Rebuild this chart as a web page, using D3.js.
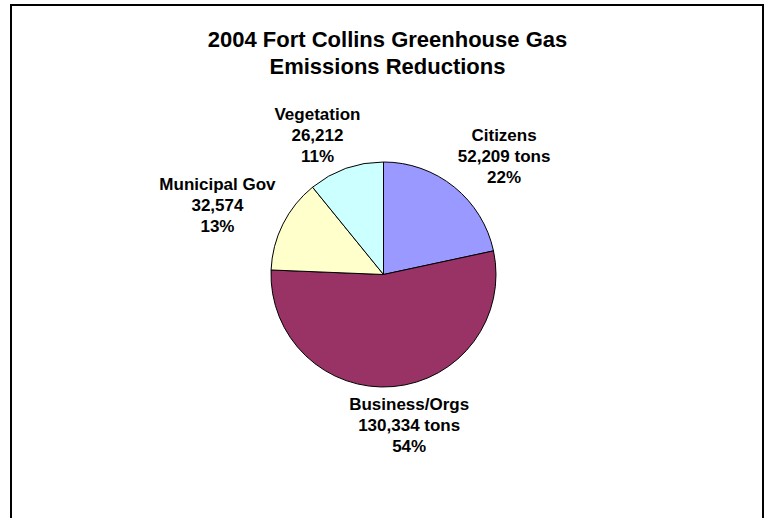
<!DOCTYPE html>
<html>
<head>
<meta charset="utf-8">
<script src="https://cdn.jsdelivr.net/npm/d3@7"></script>
<style>
  body { margin: 0; background: #fff; }
  svg text { font-family: Arial, "Liberation Sans", sans-serif; font-weight: bold; fill: #000; }
</style>
</head>
<body>
<div id="chart"></div>
<script>
var categories = ["Citizens", "Business/Orgs", "Municipal Gov", "Vegetation"];
var tons = [52209, 130334, 32574, 26212];
var units = [" tons", " tons", "", ""];
var titleLines = ["2004 Fort Collins Greenhouse Gas", "Emissions Reductions"];

var colors = ["#9999ff", "#993366", "#ffffcc", "#ccffff"];

var width = 767,
    height = 518;

var cx = 383.5,
    cy = 274.5,
    radius = 112.5,
    labelRadius = 160;

// nudges so the labels sit where Excel put them
var labelNudge = [[20, 12], [12, -3], [-23, 8], [-12.5, 17]];
var lineGap = 21;

var svg = d3.select("#chart").append("svg")
    .attr("width", width)
    .attr("height", height);

// outer frame
svg.append("rect")
    .attr("x", 11)
    .attr("y", 5)
    .attr("width", 752)
    .attr("height", 540)
    .style("fill", "#fff")
    .style("stroke", "#000")
    .style("stroke-width", 2);

svg.selectAll(".title")
    .data(titleLines)
    .enter()
    .append("text")
    .attr("class", "title")
    .attr("x", 387.5)
    .attr("y", (d, i) => 47 + i * 27)
    .attr("text-anchor", "middle")
    .style("font-size", "22px")
    .text(d => d);

var total = d3.sum(tons);
var pct = d3.format(".0%");
var num = d3.format(",");

var data = categories.map((c, i) => ({name: c, value: tons[i], unit: units[i], color: colors[i], i: i}));

var pie = d3.pie()
    .sort(null)
    .value(d => d.value);

var arc = d3.arc()
    .innerRadius(0)
    .outerRadius(radius);

var labelArc = d3.arc()
    .innerRadius(labelRadius)
    .outerRadius(labelRadius);

var g = svg.append("g")
    .attr("transform", "translate(" + cx + "," + cy + ")");

var arcs = pie(data);

g.selectAll("path")
    .data(arcs)
    .enter()
    .append("path")
    .attr("d", arc)
    .style("fill", d => d.data.color)
    .style("stroke", "#000")
    .style("stroke-width", 1);

var labels = g.selectAll(".lbl")
    .data(arcs)
    .enter()
    .append("text")
    .attr("class", "lbl")
    .attr("text-anchor", "middle")
    .style("font-size", "17px")
    .attr("transform", d => {
        var c = labelArc.centroid(d);
        var n = labelNudge[d.data.i];
        return "translate(" + (c[0] + n[0]) + "," + (c[1] + n[1]) + ")";
    });

// three lines: name, tons, share
labels.each(function(d) {
    var lines = [d.data.name, num(d.data.value) + d.data.unit, pct(d.data.value / total)];
    d3.select(this).selectAll("tspan")
        .data(lines)
        .enter()
        .append("tspan")
        .attr("x", 0)
        .attr("y", (t, k) => (k - 1) * lineGap)
        .text(t => t);
});
</script>
</body>
</html>
